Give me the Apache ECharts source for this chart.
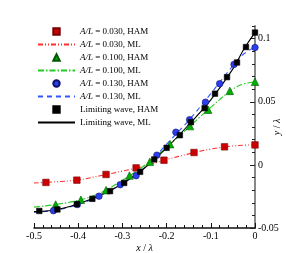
<!DOCTYPE html>
<html><head><meta charset="utf-8">
<script src="https://cdn.jsdelivr.net/npm/echarts@6/dist/echarts.min.js"></script>
<style>html,body{margin:0;padding:0;background:#fff}#c{width:286px;height:253px}</style>
</head><body><div id="c"></div>
<script>
// ---- data ----
const redHamX = [-0.473, -0.403, -0.337, -0.269, -0.206, -0.138, -0.069, 0];
const redHamY = [-0.0139, -0.0121, -0.0076, -0.0024, 0.0037, 0.0098, 0.0143, 0.0158];
const greenHamX = [-0.451, -0.394, -0.337, -0.284, -0.238, -0.192, -0.147, -0.106, -0.057, 0];
const greenHamY = [-0.0314, -0.0276, -0.0200, -0.0084, 0.0024, 0.0164, 0.0307, 0.0437, 0.0586, 0.0658];
const blueHamX = [-0.456, -0.402, -0.353, -0.305, -0.269, -0.222, -0.179, -0.148, -0.112, -0.080, -0.0475, 0];
const blueHamY = [-0.0363, -0.0314, -0.0248, -0.0157, -0.0086, 0.0077, 0.0259, 0.0358, 0.0497, 0.0643, 0.0796, 0.0930];
const blackHamX = [-0.488, -0.447, -0.403, -0.368, -0.328, -0.296, -0.260, -0.228, -0.200, -0.170, -0.145, -0.114, -0.0905, -0.0633, -0.0407, -0.0204, 0];
const blackHamY = [-0.0365, -0.0353, -0.0311, -0.0269, -0.0208, -0.0143, -0.0055, 0.0043, 0.0135, 0.0235, 0.0338, 0.0449, 0.0564, 0.0695, 0.0811, 0.0933, 0.1048];

const mlX = [-0.5, -0.45, -0.4, -0.35, -0.3, -0.25, -0.2, -0.15, -0.1, -0.05, -0.025, 0];
const redMlY = [-0.0143, -0.0134, -0.0119, -0.0086, -0.0049, -0.0010, 0.0042, 0.0087, 0.0125, 0.0150, 0.0156, 0.0158];
const greenMlY = [-0.0335, -0.0313, -0.0281, -0.0222, -0.0122, -0.0005, 0.0140, 0.0298, 0.0456, 0.0600, 0.0642, 0.0658];
const blueMlY = [-0.0375, -0.0358, -0.0313, -0.0243, -0.0148, -0.0025, 0.0165, 0.0352, 0.0565, 0.0785, 0.0880, 0.0930];
const blackMlY = [-0.0370, -0.0355, -0.0308, -0.0240, -0.0150, -0.0025, 0.0135, 0.0318, 0.0515, 0.0760, 0.0918, 0.1048];

const seriesNames = ['A/L = 0.030, HAM', 'A/L = 0.030, ML', 'A/L = 0.100, HAM', 'A/L = 0.100, ML',
  'A/L = 0.130, HAM', 'A/L = 0.130, ML', 'Limiting wave, HAM', 'Limiting wave, ML'];
const yLabelValues = [-0.05, 0, 0.05, 0.1];

// ---- build ----
const zip = (xs, ys) => xs.map((x, i) => [x, ys[i]]);
const SERIF = 'Liberation Serif, Times New Roman, serif';

const ham = (name, xs, ys, symbol, size, color, border) => ({
  name, type: 'line', data: zip(xs, ys), symbol, symbolSize: size, showSymbol: true, showAllSymbol: true, z: 5,
  lineStyle: { width: 0, opacity: 0 },
  itemStyle: { color, borderColor: border, borderWidth: 0.6, opacity: 1 }
});
const mline = (name, ys, color, dash) => ({
  name, type: 'line', data: zip(mlX, ys), smooth: 0.4, symbol: 'none', showSymbol: false, z: 3,
  lineStyle: { color, width: 1.1, type: dash }, itemStyle: { color }
});

const legendData = seriesNames.map(n => n.endsWith('ML')
  ? { name: n, itemStyle: { opacity: 0 } }
  : { name: n, lineStyle: { opacity: 0 } });

const chart = echarts.init(document.getElementById('c'), null, { renderer: 'canvas' });
chart.setOption({
  animation: false,
  backgroundColor: '#fff',
  grid: { left: 34, right: 31, top: 26, bottom: 25, containLabel: false, outerBoundsMode: 'none' },
  legend: {
    orient: 'vertical', left: 37, top: 27, padding: 0,
    itemWidth: 37, itemHeight: 8, itemGap: 4,
    data: legendData,
    formatter: n => n.replace('A/L', '{i|A/L}'),
    textStyle: { fontFamily: SERIF, fontSize: 9, color: '#000',
      rich: { i: { fontFamily: SERIF, fontSize: 9, fontStyle: 'italic', color: '#000' } } }
  },
  xAxis: {
    type: 'value', min: -0.5, max: 0, interval: 0.1,
    name: '{i|x} / {i|λ}', nameLocation: 'middle', nameGap: 15, nameMoveOverlap: false,
    nameTextStyle: { fontFamily: SERIF, fontSize: 10, color: '#000',
      rich: { i: { fontFamily: SERIF, fontSize: 10, fontStyle: 'italic', color: '#000' } } },
    axisLine: { onZero: false, lineStyle: { color: '#111', width: 1.5 } },
    axisTick: { inside: true, length: 5, lineStyle: { color: '#111' } },
    minorTick: { show: true, splitNumber: 5, length: 3, lineStyle: { color: '#111' } },
    axisLabel: { fontFamily: SERIF, fontSize: 10, color: '#000', margin: 3 },
    splitLine: { show: false }
  },
  yAxis: [{
    type: 'value', position: 'right', min: -0.05, max: 0.11, interval: 0.05,
    name: '{i|y} / {i|λ}', nameLocation: 'middle', nameGap: 17, nameRotate: 90, nameMoveOverlap: false,
    nameTextStyle: { fontFamily: SERIF, fontSize: 10, color: '#000',
      rich: { i: { fontFamily: SERIF, fontSize: 10, fontStyle: 'italic', color: '#000' } } },
    axisLine: { show: true, onZero: false, lineStyle: { color: '#888', width: 2 } },
    axisTick: { inside: true, length: 5, customValues: yLabelValues, lineStyle: { color: '#222' } },
    axisLabel: { customValues: yLabelValues, fontFamily: SERIF, fontSize: 10, color: '#000', margin: 3 },
    splitLine: { show: false }
  }, {
    type: 'value', position: 'right', min: -0.05, max: 0.11, interval: 0.01,
    axisLine: { show: false, onZero: false },
    axisTick: { inside: true, length: 3, lineStyle: { color: '#222' } },
    axisLabel: { show: false },
    splitLine: { show: false }
  }],
  series: [
    ham(seriesNames[0], redHamX, redHamY, 'rect', 6.5, '#cc0000', '#7a0000'),
    mline(seriesNames[1], redMlY, '#ff3030', [5, 2, 1, 2, 1, 2]),
    ham(seriesNames[2], greenHamX, greenHamY, 'triangle', 7.5, '#00b000', '#005500'),
    mline(seriesNames[3], greenMlY, '#22cc22', [6, 2, 1.5, 2]),
    ham(seriesNames[4], blueHamX, blueHamY, 'circle', 6.5, '#2a3ff0', '#10106a'),
    mline(seriesNames[5], blueMlY, '#3355ff', [5, 4]),
    ham(seriesNames[6], blackHamX, blackHamY, 'rect', 5.5, '#000000', '#000000'),
    mline(seriesNames[7], blackMlY, '#000000', 'solid')
  ]
});
</script></body></html>
